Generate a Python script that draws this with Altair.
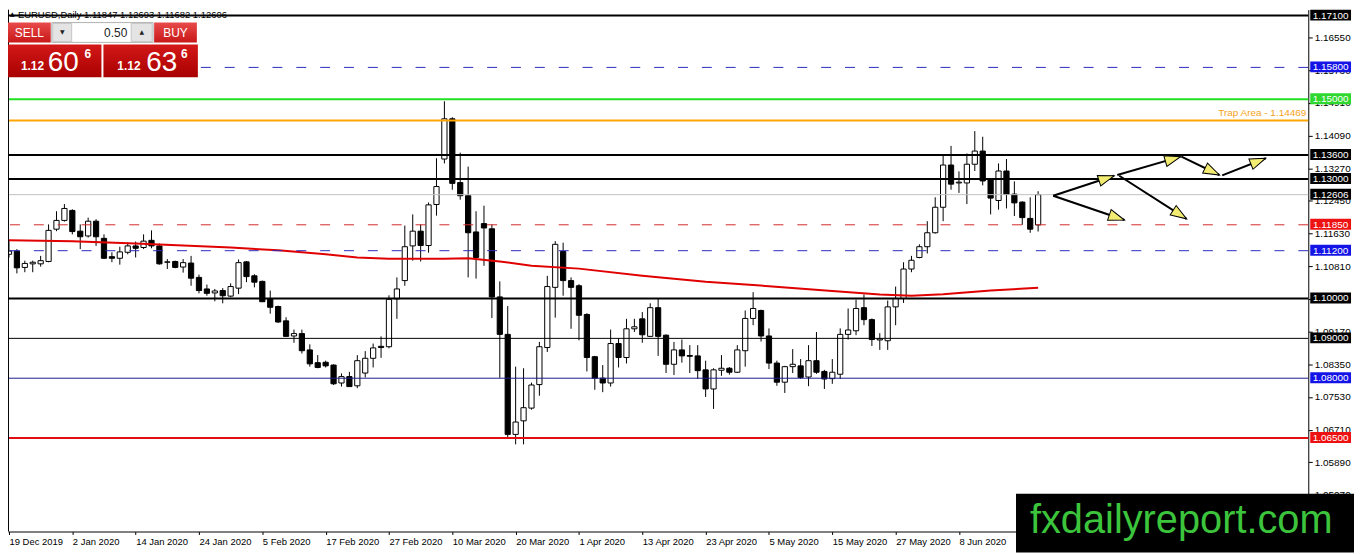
import json
import math
import altair as alt
import pandas as pd

# ---------------- data ----------------
OPEN = [1.1111, 1.1119, 1.1078, 1.1087, 1.1087, 1.1093, 1.1174, 1.1196, 1.1221, 1.1169,
        1.1157, 1.1194, 1.1151, 1.1105, 1.1101, 1.1116, 1.1132, 1.1128, 1.1146, 1.1132,
        1.1091, 1.1093, 1.1079, 1.1089, 1.1053, 1.1024, 1.1014, 1.1020, 1.1006, 1.1026,
        1.1092, 1.1057, 1.1043, 1.1000, 1.0980, 1.0944, 1.0906, 1.0912, 1.0871, 1.0839,
        1.0840, 1.0833, 1.0788, 1.0804, 1.0781, 1.0813, 1.0850, 1.0880, 1.0879, 1.0999,
        1.1045, 1.1132, 1.1169, 1.1133, 1.1236, 1.1350, 1.1451, 1.1291, 1.1258, 1.1167,
        1.1188, 1.1175, 1.1004, 1.0910, 1.0659, 1.0693, 1.0725, 1.0784, 1.0877, 1.1028,
        1.1118, 1.1045, 1.1032, 1.0960, 1.0854, 1.0800, 1.0788, 1.0887, 1.0852, 1.0924,
        1.0949, 1.0905, 1.0977, 1.0908, 1.0835, 1.0871, 1.0857, 1.0856, 1.0821, 1.0773,
        1.0820, 1.0825, 1.0815, 1.0869, 1.0950, 1.0970, 1.0906, 1.0838, 1.0790, 1.0829,
        1.0831, 1.0803, 1.0844, 1.0817, 1.0799, 1.0810, 1.0910, 1.0919, 1.0977, 1.0947,
        1.0896, 1.0894, 1.0979, 1.1000, 1.1074, 1.1103, 1.1130, 1.1165, 1.1229, 1.1335,
        1.1290, 1.1290, 1.1337, 1.1370, 1.1298, 1.1246, 1.1320, 1.1262, 1.1242, 1.1201,
        1.11847]
HIGH = [1.1144, 1.1124, 1.1095, 1.1095, 1.1107, 1.1186, 1.1219, 1.1237, 1.1224, 1.1186,
        1.1203, 1.1199, 1.1161, 1.1116, 1.1130, 1.1140, 1.1143, 1.1161, 1.1171, 1.1138,
        1.1099, 1.1095, 1.1099, 1.1107, 1.1060, 1.1035, 1.1024, 1.1026, 1.1038, 1.1098,
        1.1094, 1.1061, 1.1045, 1.1020, 1.0982, 1.0953, 1.0922, 1.0922, 1.0885, 1.0858,
        1.0844, 1.0835, 1.0812, 1.0816, 1.0858, 1.0868, 1.0887, 1.0905, 1.1008, 1.1053,
        1.1183, 1.1211, 1.1186, 1.1241, 1.1352, 1.1495, 1.1455, 1.1366, 1.1331, 1.1219,
        1.1233, 1.1186, 1.1043, 1.0981, 1.0829, 1.0825, 1.0789, 1.0891, 1.1057, 1.1144,
        1.1140, 1.1053, 1.1036, 1.0963, 1.0856, 1.0833, 1.0922, 1.0900, 1.0949, 1.0949,
        1.0966, 1.0988, 1.0999, 1.0910, 1.0891, 1.0897, 1.0883, 1.0883, 1.0844, 1.0825,
        1.0858, 1.0828, 1.0883, 1.0970, 1.1016, 1.0972, 1.0925, 1.0844, 1.0831, 1.0873,
        1.0848, 1.0883, 1.0916, 1.0821, 1.0848, 1.0925, 1.0975, 1.0997, 1.1010, 1.0950,
        1.0913, 1.0995, 1.1030, 1.1091, 1.1107, 1.1136, 1.1194, 1.1254, 1.1360, 1.1383,
        1.1319, 1.1364, 1.1420, 1.1406, 1.1300, 1.1339, 1.1350, 1.1294, 1.1244, 1.1254,
        1.12693]
LOW = [1.1103, 1.1063, 1.1066, 1.1066, 1.1080, 1.1091, 1.1169, 1.1193, 1.1161, 1.1124,
       1.1153, 1.1132, 1.1099, 1.1091, 1.1085, 1.1111, 1.1103, 1.1124, 1.1126, 1.1085,
       1.1074, 1.1076, 1.1065, 1.1032, 1.1013, 1.1007, 1.0993, 1.0988, 1.1003, 1.1011,
       1.1041, 1.1028, 1.0991, 1.0962, 1.0939, 1.0904, 1.0889, 1.0862, 1.0829, 1.0825,
       1.0827, 1.0783, 1.0779, 1.0778, 1.0775, 1.0802, 1.0827, 1.0851, 1.0875, 1.0949,
       1.1032, 1.1095, 1.1093, 1.1115, 1.1208, 1.1339, 1.1273, 1.1248, 1.1053, 1.1050,
       1.1082, 1.0951, 1.0801, 1.0651, 1.0634, 1.0634, 1.0721, 1.0756, 1.0866, 1.0952,
       1.1007, 1.0924, 1.0895, 1.0817, 1.0771, 1.0765, 1.0779, 1.0827, 1.0837, 1.0916,
       1.0889, 1.0904, 1.0856, 1.0813, 1.0808, 1.0839, 1.0813, 1.0798, 1.0753, 1.0723,
       1.0806, 1.0809, 1.0813, 1.0829, 1.0933, 1.0892, 1.0823, 1.0781, 1.0763, 1.0813,
       1.0798, 1.0780, 1.0811, 1.0773, 1.0786, 1.0798, 1.0897, 1.0908, 1.0933, 1.0881,
       1.0871, 1.0871, 1.0933, 1.0989, 1.1066, 1.1101, 1.1113, 1.1163, 1.1194, 1.1273,
       1.1265, 1.1237, 1.1320, 1.1284, 1.1211, 1.1223, 1.1226, 1.1207, 1.1185, 1.1165,
       1.11682]
CLOSE = [1.1119, 1.1077, 1.1088, 1.1091, 1.1095, 1.1171, 1.1196, 1.1226, 1.1168, 1.1155,
         1.1194, 1.1155, 1.1101, 1.1101, 1.1117, 1.1132, 1.1126, 1.1144, 1.1132, 1.1087,
         1.1092, 1.1078, 1.1090, 1.1051, 1.1020, 1.1013, 1.1019, 1.1007, 1.1030, 1.1090,
         1.1055, 1.1041, 1.0992, 1.0978, 1.0941, 1.0905, 1.0912, 1.0869, 1.0836, 1.0827,
         1.0831, 1.0786, 1.0804, 1.0779, 1.0844, 1.0850, 1.0876, 1.0877, 1.0998, 1.1024,
         1.1130, 1.1169, 1.1133, 1.1235, 1.1281, 1.1451, 1.1289, 1.1258, 1.1165, 1.1103,
         1.1177, 1.1004, 1.0910, 1.0659, 1.0690, 1.0726, 1.0783, 1.0879, 1.1030, 1.1136,
         1.1045, 1.1028, 1.0958, 1.0852, 1.0800, 1.0788, 1.0887, 1.0852, 1.0924, 1.0929,
         1.0909, 1.0977, 1.0905, 1.0835, 1.0871, 1.0856, 1.0855, 1.0819, 1.0773, 1.0821,
         1.0825, 1.0815, 1.0871, 1.0950, 1.0975, 1.0906, 1.0838, 1.0790, 1.0829, 1.0835,
         1.0802, 1.0844, 1.0815, 1.0798, 1.0815, 1.0910, 1.0921, 1.0975, 1.0947, 1.0897,
         1.0899, 1.0979, 1.1000, 1.1074, 1.1096, 1.1130, 1.1165, 1.1229, 1.1335, 1.1287,
         1.1292, 1.1337, 1.1370, 1.1295, 1.1252, 1.1320, 1.1261, 1.1240, 1.1203, 1.1174,
         1.12606]
BAR_INDEX = list(range(len(OPEN)))

DATE_TICKS = [0, 8, 16, 24, 32, 40, 48, 56, 64, 72, 80, 88, 96, 104, 112, 120]
DATE_LABELS = ["19 Dec 2019", "2 Jan 2020", "14 Jan 2020", "24 Jan 2020", "5 Feb 2020",
               "17 Feb 2020", "27 Feb 2020", "10 Mar 2020", "20 Mar 2020", "1 Apr 2020",
               "13 Apr 2020", "23 Apr 2020", "5 May 2020", "15 May 2020", "27 May 2020",
               "8 Jun 2020"]
PRICE_TICKS = [1.0425, 1.0507, 1.0589, 1.0671, 1.0753, 1.0835, 1.0917, 1.0999, 1.1081,
               1.1163, 1.1245, 1.1327, 1.1409, 1.1491, 1.1573, 1.1655]

MA_IDX = [0, 8, 16, 22, 28, 34, 40, 44, 48, 55, 58, 62, 66, 72, 80, 88, 96, 104, 110, 114, 118, 124, 130]
MA_VAL = [1.1146, 1.1144, 1.1138, 1.1133, 1.1128, 1.1121, 1.1111, 1.1103, 1.1100, 1.1100,
          1.1101, 1.1093, 1.1082, 1.1075, 1.1057, 1.1042, 1.1031, 1.1019, 1.1010, 1.1007,
          1.1011, 1.1020, 1.1027]

LEVELS = [1.171, 1.158, 1.15, 1.14469, 1.136, 1.13, 1.12606, 1.1185, 1.112, 1.10, 1.09, 1.08, 1.065]
LINE_COLORS = ["#000000", "#2a2ac0", "#22e022", "#ffa500", "#000000", "#000000", "#c0c0c0",
               "#d42a2a", "#2a2ac0", "#000000", "#000000", "#1c1c8c", "#e01010"]
LINE_WIDTHS = [2, 1, 2, 2, 2, 2, 1, 1, 1, 2, 1, 1, 2]
LINE_DASHED = [False, True, False, False, False, False, False, True, True, False, False, False, False]
BOX_COLORS = ["#000000", "#1414e6", "#2ed82e", "", "#000000", "#000000", "#000000",
              "#ee1111", "#1414e6", "#000000", "#000000", "#1414e6", "#ee1111"]
TRAP_LEVEL = [1.14469]

ARROW_X0 = [131.9, 131.9, 140.0, 140.25, 148.1, 153.25]
ARROW_Y0 = [1.1258, 1.1258, 1.1310, 1.1308, 1.1356, 1.1309]
ARROW_X1 = [139.6, 140.9, 148.0, 148.75, 152.9, 158.75]
ARROW_Y1 = [1.1308, 1.1197, 1.1356, 1.1200, 1.1310, 1.1352]

SYMBOL = "EURUSD,Daily"
SELL_PRICE = ["1.12", "60", "6"]
BUY_PRICE = ["1.12", "63", "6"]
LOT = "0.50"
WATERMARK = "fxdailyreport.com"

# ---------------- layout ----------------
W, H = 1308, 525
X_DOM = [-0.125, 164.125]
Y_DOM = [1.04153, 1.1725]
FONT = "Liberation Sans"
PX_BAR = W / (X_DOM[1] - X_DOM[0])
PX_PRICE = H / (Y_DOM[1] - Y_DOM[0])

xs = alt.Scale(domain=X_DOM, nice=False, zero=False)
ys = alt.Scale(domain=Y_DOM, nice=False, zero=False)
label_expr = json.dumps(DATE_LABELS) + "[round(datum.value / 8)]"
xaxis = alt.Axis(values=DATE_TICKS, labelExpr=label_expr, title=None, grid=False,
                 tickSize=3, labelAlign="left", labelBaseline="top", labelPadding=2,
                 labelFont=FONT, labelFontSize=9.5, labelColor="black", domainColor="black",
                 tickColor="black", labelFlush=False, labelOverlap=False)
yaxis = alt.Axis(orient="right", values=PRICE_TICKS, format=".5f", title=None, grid=False,
                 tickSize=4, labelPadding=2, labelFont=FONT, labelFontSize=10,
                 labelColor="black", domainColor="black", tickColor="black",
                 labelOverlap=False, labelFlush=False)


def X(f):
    return alt.X(f, scale=xs, axis=xaxis)


def Y(f):
    return alt.Y(f, scale=ys, axis=yaxis)


candles = pd.DataFrame({"i": BAR_INDEX, "open": OPEN, "high": HIGH, "low": LOW, "close": CLOSE})
base = alt.Chart(candles)
wicks = base.mark_rule(color="black", strokeWidth=1).encode(x=X("i:Q"), y=Y("low:Q"), y2="high:Q")
bodies = base.transform_calculate(
    x0="datum.i - 0.33", x1="datum.i + 0.33",
    fc="datum.close >= datum.open ? 'white' : 'black'"
).mark_rect(stroke="black", strokeWidth=1).encode(
    x=X("x0:Q"), x2="x1:Q", y=Y("open:Q"), y2="close:Q", fill=alt.Fill("fc:N", scale=None))

ma_df = pd.DataFrame({"i": MA_IDX, "ma": MA_VAL})
ma = alt.Chart(ma_df).mark_line(color="#e00000", strokeWidth=2).encode(x=X("i:Q"), y=Y("ma:Q"))

lev = pd.DataFrame({"level": LEVELS, "lc": LINE_COLORS, "lw": LINE_WIDTHS, "dash": LINE_DASHED,
                    "bc": BOX_COLORS, "lbl": [f"{v:.5f}" for v in LEVELS]})
solid = alt.Chart(lev).transform_filter("!datum.dash").mark_rule().encode(
    y=Y("level:Q"), color=alt.Color("lc:N", scale=None), strokeWidth=alt.StrokeWidth("lw:Q", scale=None))
dashed = alt.Chart(lev).transform_filter("datum.dash").mark_rule(strokeDash=[10, 14]).encode(
    y=Y("level:Q"), color=alt.Color("lc:N", scale=None), strokeWidth=alt.StrokeWidth("lw:Q", scale=None))
boxes = alt.Chart(lev).transform_filter("datum.bc != ''").mark_rect(yOffset=-6, y2Offset=5).encode(
    x=alt.value(W + 2), x2=alt.value(W + 43), y=Y("level:Q"), y2="level:Q",
    fill=alt.Fill("bc:N", scale=None))
box_txt = alt.Chart(lev).transform_filter("datum.bc != ''").mark_text(
    font=FONT, fontSize=10, color="white", align="center", baseline="middle").encode(
    x=alt.value(W + 22.5), y=Y("level:Q"), text="lbl:N")

trap_df = pd.DataFrame({"level": TRAP_LEVEL, "t": [f"Trap Area - {v:.5f}" for v in TRAP_LEVEL]})
trap_txt = alt.Chart(trap_df).mark_text(font=FONT, fontSize=10, color="#f5a31a", align="right",
                                        baseline="bottom", dy=-2).encode(
    x=alt.value(W - 2), y=Y("level:Q"), text="t:N")

ang = []
for x0, y0, x1, y1 in zip(ARROW_X0, ARROW_Y0, ARROW_X1, ARROW_Y1):
    a = math.degrees(math.atan2(-(y1 - y0) * PX_PRICE, (x1 - x0) * PX_BAR)) % 360
    ang.append(a)
arr = pd.DataFrame({"x0": ARROW_X0, "y0": ARROW_Y0, "x1": ARROW_X1, "y1": ARROW_Y1, "ang": ang})
arrow_lines = alt.Chart(arr).mark_rule(color="black", strokeWidth=2).encode(
    x=X("x0:Q"), x2="x1:Q", y=Y("y0:Q"), y2="y1:Q")
arrow_heads = alt.Chart(arr).mark_point(shape="M0,0L-2,-0.7L-2,0.7Z", size=256, filled=True,
                                        fill="#f3ec72", stroke="black", strokeWidth=1, opacity=1).encode(
    x=X("x1:Q"), y=Y("y1:Q"), angle=alt.Angle("ang:Q", scale=None))

one = pd.DataFrame({"k": [0]})


def rect(x0, x1, y0, y1, fill, stroke=None):
    kw = {"fill": fill}
    if stroke:
        kw.update(stroke=stroke, strokeWidth=1)
    return alt.Chart(one).mark_rect(**kw).encode(
        x=alt.value(x0), x2=alt.value(x1), y=alt.value(y0), y2=alt.value(y1))


def text(x, y, s, size, color="white", align="left", baseline="alphabetic", font=FONT, weight="normal"):
    return alt.Chart(one).mark_text(text=s, fontSize=size, color=color, align=align,
                                    baseline=baseline, font=font, fontWeight=weight).encode(
        x=alt.value(x), y=alt.value(y))


def grad(c0, c1):
    return alt.Gradient(gradient="linear", x1=0, x2=0, y1=0, y2=1,
                        stops=[alt.GradientStop(color=c0, offset=0), alt.GradientStop(color=c1, offset=1)])


left_border = alt.Chart(one).mark_rule(color="black", strokeWidth=1).encode(
    x=alt.value(0.5), y=alt.value(0), y2=alt.value(H))

title_txt = " ".join([SYMBOL, f"{OPEN[-1]:.5f}", f"{HIGH[-1]:.5f}", f"{LOW[-1]:.5f}", f"{CLOSE[-1]:.5f}"])
title_layers = [
    text(2, 1, "▲", 6, color="black", baseline="top", font="DejaVu Sans"),
    text(10, 0, title_txt, 9.5, color="black", baseline="top"),
]

btn = grad("#e84a4a", "#c81818")
pbox = grad("#d41818", "#a80000")
widget = [
    rect(0, 43, 13, 33, btn),
    text(21.5, 23.5, "SELL", 12, align="center", baseline="middle"),
    rect(44, 146, 13, 33, "#f4f4f4", "#b4b4b4"),
    rect(45, 64, 14, 32, "#e4e4e4", "#c8c8c8"),
    text(54.5, 23, "▼", 6, color="#222222", align="center", baseline="middle", font="DejaVu Sans"),
    rect(65, 123, 14, 32, "#ffffff"),
    text(120, 23.5, LOT, 12, color="#222222", align="right", baseline="middle"),
    rect(124, 145, 14, 32, "#e4e4e4", "#c8c8c8"),
    text(134.5, 23, "▲", 6, color="#222222", align="center", baseline="middle", font="DejaVu Sans"),
    rect(147, 190, 13, 33, btn),
    text(168.5, 23.5, "BUY", 12, align="center", baseline="middle"),
    rect(0, 94, 35, 68, pbox),
    rect(96, 191, 35, 68, pbox),
    text(13, 60.5, SELL_PRICE[0], 12, weight="bold"),
    text(40, 61.5, SELL_PRICE[1], 28),
    text(77, 49, SELL_PRICE[2], 12, weight="bold"),
    text(110, 60.5, BUY_PRICE[0], 12, weight="bold"),
    text(139, 61.5, BUY_PRICE[1], 28),
    text(174, 49, BUY_PRICE[2], 12, weight="bold"),
]

wm = [
    rect(1014, 1354, 487, 546, "#000000"),
    text(1028, 527, WATERMARK, 40, color="#3cc43c"),
]

layers = [wicks, bodies, ma, solid, dashed, arrow_lines, arrow_heads, boxes, box_txt, trap_txt,
          left_border] + title_layers + widget + wm

chart = alt.layer(*layers).properties(
    width=W, height=H,
    padding={"left": 0, "top": 0, "right": 46, "bottom": 21},
    autosize=alt.AutoSizeParams(type="none"),
    background="white",
).configure_view(stroke=None)

chart.save("out.html", embed_options={"renderer": "svg", "actions": False})
